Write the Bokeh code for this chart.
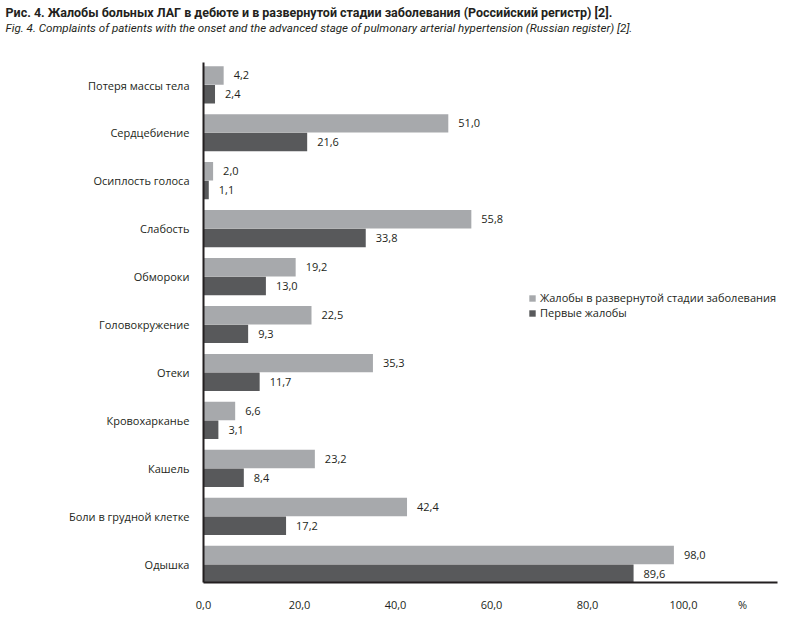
from bokeh.plotting import figure
from bokeh.models import (Range1d, FixedTicker, Title, Legend, LegendItem,
                          ColumnDataSource, LabelSet, CustomJSTickFormatter)
from bokeh.core.properties import value
from bokeh.embed import file_html
from bokeh.resources import INLINE

# ---------------- data ----------------
categories = ["Потеря массы тела", "Сердцебиение", "Осиплость голоса", "Слабость",
              "Обмороки", "Головокружение", "Отеки", "Кровохарканье", "Кашель",
              "Боли в грудной клетке", "Одышка"]
advanced = [4.2, 51.0, 2.0, 55.8, 19.2, 22.5, 35.3, 6.6, 23.2, 42.4, 98.0]
first = [2.4, 21.6, 1.1, 33.8, 13.0, 9.3, 11.7, 3.1, 8.4, 17.2, 89.6]
series_names = ["Жалобы в развернутой стадии заболевания", "Первые жалобы"]
x_ticks = [0, 20, 40, 60, 80, 100]
x_tick_labels = ["0,0", "20,0", "40,0", "60,0", "80,0", "100,0"]
unit_label = "%"
title_ru = "Рис. 4. Жалобы больных ЛАГ в дебюте и в развернутой стадии заболевания (Российский регистр) [2]."
title_en = "Fig. 4. Complaints of patients with the onset and the advanced stage of pulmonary arterial hypertension (Russian register) [2]."

# ---------------- styling ----------------
LIGHT = "#a7a9ac"
DARK = "#58595b"
TEXT = "#231f20"
FONT = "Open Sans"
TFONT = "Liberation Sans Narrow, Roboto, sans-serif"

n = len(categories)
pos = [n - 1 - i for i in range(n)]
labels_bottom_up = [categories[n - 1 - k] for k in range(n)]

src_a = ColumnDataSource(dict(y=[p_ + 0.2 for p_ in pos], v=advanced,
                              t=[f"{v:.1f}".replace(".", ",") for v in advanced]))
src_f = ColumnDataSource(dict(y=[p_ - 0.19 for p_ in pos], v=first,
                              t=[f"{v:.1f}".replace(".", ",") for v in first]))

p = figure(width=808, height=638, x_range=Range1d(0, 125),
           y_range=Range1d(-0.375, 10.47), output_backend="svg",
           toolbar_location=None, min_border_left=203, min_border_right=5,
           min_border_top=62, min_border_bottom=56)
p.outline_line_color = None
p.xgrid.visible = False
p.ygrid.visible = False
p.background_fill_color = "white"

r_a = p.hbar(y="y", right="v", left=0, height=0.385, source=src_a,
             fill_color=LIGHT, line_color=None)
r_f = p.hbar(y="y", right="v", left=0, height=0.385, source=src_f,
             fill_color=DARK, line_color=None)

for s in (src_a, src_f):
    p.add_layout(LabelSet(x="v", y="y", text="t", source=s, x_offset=10,
                          text_baseline="middle", text_font=value(FONT),
                          text_font_size="11px", text_color=TEXT))

# x axis
all_ticks = x_ticks + [112.3]
all_labels = x_tick_labels + [unit_label]
xa = p.xaxis[0]
xa.ticker = FixedTicker(ticks=all_ticks)
xa.formatter = CustomJSTickFormatter(args=dict(tvals=all_ticks, tlabs=all_labels),
    code="const i = tvals.indexOf(tick); return i >= 0 ? tlabs[i] : '';")
xa.bounds = (0, 119.6)
xa.major_tick_line_color = None
xa.minor_tick_line_color = None
xa.axis_line_width = 2
xa.axis_line_color = TEXT
xa.major_label_standoff = 8
xa.major_label_text_font = FONT
xa.major_label_text_font_size = "11px"
xa.major_label_text_color = TEXT

# y axis
ya = p.yaxis[0]
ya.ticker = FixedTicker(ticks=list(range(n)))
ya.formatter = CustomJSTickFormatter(args=dict(cats=labels_bottom_up),
    code="const i = Math.round(tick); return cats[i] || '';")
ya.major_tick_line_color = None
ya.minor_tick_line_color = None
ya.axis_line_width = 2
ya.axis_line_color = TEXT
ya.major_label_standoff = 8
ya.major_label_text_font = FONT
ya.major_label_text_font_size = "11px"
ya.major_label_text_color = TEXT

# legend
legend = Legend(items=[LegendItem(label=series_names[0], renderers=[r_a]),
                       LegendItem(label=series_names[1], renderers=[r_f])],
                location=(325, 262), glyph_width=8, glyph_height=8,
                label_height=13, spacing=0, padding=0, margin=0,
                label_standoff=4, border_line_color=None,
                background_fill_alpha=0, label_text_font=FONT,
                label_text_font_size="11px", label_text_color=TEXT)
p.add_layout(legend, "center")

# titles (first added = closest to the frame); a blank spacer keeps the gap
p.add_layout(Title(text=" ", align="left", standoff=12,
                   text_font_size="12px"), "above")
p.add_layout(Title(text=title_en, align="left", offset=-198, standoff=-1,
                   text_font=TFONT, text_font_style="italic",
                   text_font_size="11.6px", text_color=TEXT), "above")
p.add_layout(Title(text=title_ru, align="left", offset=-198, standoff=0,
                   text_font=TFONT, text_font_style="bold",
                   text_font_size="12.5px", text_color=TEXT), "above")

open("out.html", "w").write(file_html(p, INLINE))
